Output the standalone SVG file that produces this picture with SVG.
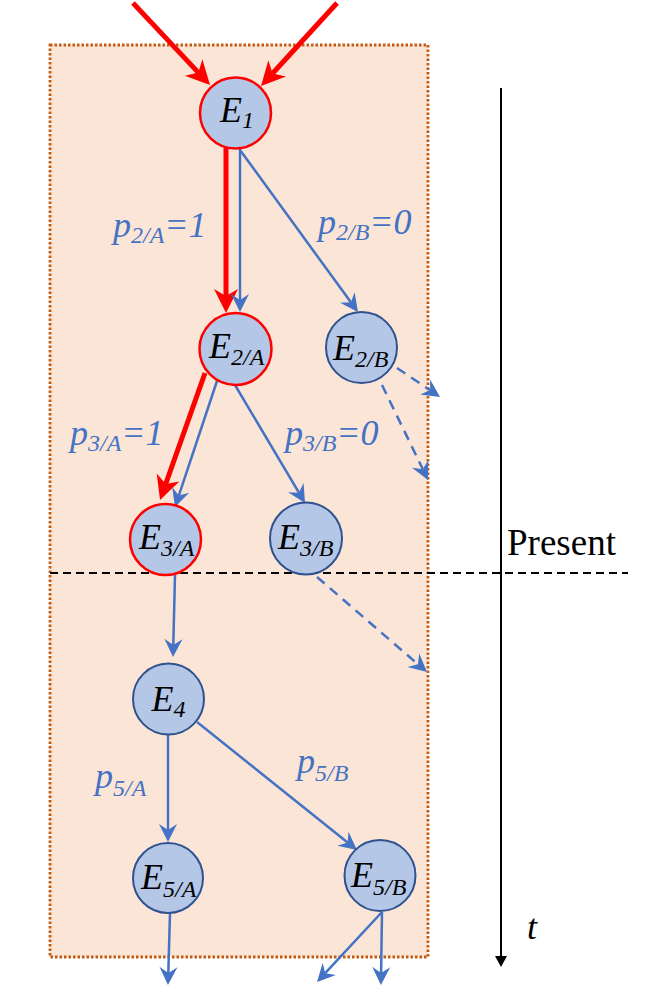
<svg xmlns="http://www.w3.org/2000/svg" width="659" height="1008" viewBox="0 0 659 1008">
<style>
.bl{stroke:#4472C4;stroke-width:2.5;fill:none;marker-end:url(#ab)}
.bd{stroke:#4472C4;stroke-width:2.5;fill:none;stroke-dasharray:10,7;marker-end:url(#ab)}
.rd{stroke:#FF0000;stroke-width:5;fill:none;marker-end:url(#ar)}
.nd{fill:#B4C7E7;stroke:#2F528F;stroke-width:2}
.nr{fill:#B4C7E7;stroke:#FF0000;stroke-width:2.5}
.nt{fill:#000}
.lb{fill:#4472C4}
</style>
<defs>
<marker id="ab" markerUnits="userSpaceOnUse" markerWidth="18" markerHeight="18" refX="6" refY="9" orient="auto" overflow="visible"><path d="M0,0 L18,9 L0,18 L6,9 z" fill="#4472C4"/></marker>
<marker id="ar" markerUnits="userSpaceOnUse" markerWidth="24" markerHeight="24" refX="7" refY="12" orient="auto" overflow="visible"><path d="M0,0 L24,12 L0,24 L7,12 z" fill="#FF0000"/></marker>
<marker id="ak" markerUnits="userSpaceOnUse" markerWidth="11" markerHeight="12" refX="0" refY="6" orient="auto" overflow="visible"><path d="M0,0 L11,6 L0,12 z" fill="#000"/></marker>
</defs>
<rect x="50" y="45" width="378" height="912" fill="#FBE5D6" stroke="#C55A11" stroke-width="2.8" stroke-dasharray="2.5,2"/>
<g id="connectors">
<line class="rd" x1="133" y1="3" x2="198.4" y2="72.6"/>
<line class="rd" x1="337" y1="3" x2="272.5" y2="73.5"/>
<line class="rd" x1="226" y1="148" x2="226" y2="296"/>
<line class="bl" x1="240" y1="149" x2="240" y2="300"/>
<line class="bl" x1="240" y1="150" x2="350.9" y2="302.3"/>
<line class="rd" x1="205" y1="373" x2="165.7" y2="484"/>
<line class="bl" x1="218" y1="378" x2="178.8" y2="495.6"/>
<line class="bl" x1="235" y1="385" x2="298.9" y2="492.7"/>
<line class="bd" x1="397" y1="368" x2="430.1" y2="390.3"/>
<line class="bd" x1="382" y1="385" x2="422.8" y2="469.2"/>
<line class="bl" x1="175" y1="575" x2="173.3" y2="645"/>
<line class="bd" x1="317" y1="577" x2="417.9" y2="664.2"/>
<line class="bl" x1="168" y1="734" x2="168" y2="830"/>
<line class="bl" x1="197" y1="722" x2="347.6" y2="842.5"/>
<line class="bl" x1="170" y1="913" x2="168.3" y2="973"/>
<line class="bl" x1="382" y1="912" x2="325.2" y2="973.2"/>
<line class="bl" x1="382" y1="912" x2="381.1" y2="973"/>
<line x1="501" y1="88" x2="501" y2="956" stroke="#000" stroke-width="2" marker-end="url(#ak)"/>
<line x1="50" y1="573" x2="628" y2="573" stroke="#000" stroke-width="2" stroke-dasharray="8,5"/>
</g>
<g font-family="Liberation Serif, Times New Roman, serif" font-style="italic" font-size="36">
<g id="E1"><circle class="nr" cx="235.5" cy="113" r="35.5"/><text class="nt" x="220" y="122">E<tspan font-size="24" dy="6">1</tspan></text></g>
<g id="E2A"><circle class="nr" cx="235.5" cy="349" r="36"/><text class="nt" x="209" y="358">E<tspan font-size="24" dy="7">2/A</tspan></text></g>
<g id="E2B"><circle class="nd" cx="361.5" cy="347.5" r="35.5"/><text class="nt" x="333" y="360">E<tspan font-size="24" dy="7">2/B</tspan></text></g>
<g id="E3A"><circle class="nr" cx="165.5" cy="539.5" r="35.5"/><text class="nt" x="139" y="549">E<tspan font-size="24" dy="7">3/A</tspan></text></g>
<g id="E3B"><circle class="nd" cx="306" cy="538.5" r="36"/><text class="nt" x="278" y="549">E<tspan font-size="24" dy="7">3/B</tspan></text></g>
<g id="E4"><circle class="nd" cx="168.5" cy="699" r="35.5"/><text class="nt" x="151.5" y="711">E<tspan font-size="24" dy="6">4</tspan></text></g>
<g id="E5A"><circle class="nd" cx="168" cy="878" r="35"/><text class="nt" x="141" y="889">E<tspan font-size="24" dy="8">5/A</tspan></text></g>
<g id="E5B"><circle class="nd" cx="380" cy="875.5" r="35.5"/><text class="nt" x="351" y="887">E<tspan font-size="24" dy="8">5/B</tspan></text></g>
<g id="labels">
<text class="lb" x="113" y="237">p<tspan font-size="24" dy="6">2/A</tspan><tspan dy="-6">=1</tspan></text>
<text class="lb" x="318" y="234">p<tspan font-size="24" dy="6">2/B</tspan><tspan dy="-6">=0</tspan></text>
<text class="lb" x="70" y="445">p<tspan font-size="24" dy="6">3/A</tspan><tspan dy="-6">=1</tspan></text>
<text class="lb" x="285" y="445">p<tspan font-size="24" dy="6">3/B</tspan><tspan dy="-6">=0</tspan></text>
<text class="lb" x="95" y="788">p<tspan font-size="24" dy="8">5/A</tspan></text>
<text class="lb" x="297" y="773">p<tspan font-size="24" dy="8">5/B</tspan></text>
<text x="507" y="555" font-style="normal" font-size="37">Present</text>
<text x="527" y="939">t</text>
</g>
</g>
</svg>
